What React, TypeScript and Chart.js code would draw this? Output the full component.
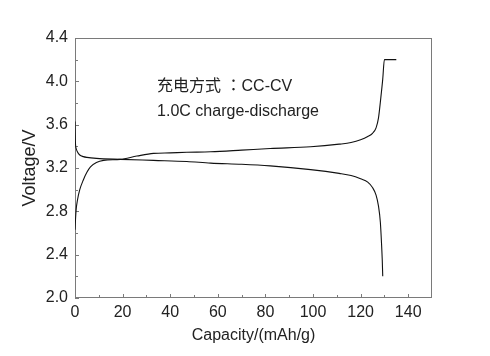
import { useEffect, useRef } from "react";
import { Chart, registerables } from "chart.js";

Chart.register(...registerables);

// ---- data ----
const chargeCapacity = [0, 0.2, 0.5, 1, 2, 3.5, 5, 6.5, 9, 12, 19, 26, 33, 40, 47, 57, 70, 82, 99, 111, 116, 120, 123, 125, 126.5, 127.5, 128.5, 129.3, 130, 135];
const chargeVoltage = [2.63, 2.72, 2.82, 2.9, 3.0, 3.09, 3.16, 3.21, 3.25, 3.27, 3.28, 3.31, 3.335, 3.34, 3.345, 3.35, 3.365, 3.38, 3.396, 3.42, 3.435, 3.46, 3.49, 3.52, 3.57, 3.66, 3.85, 4.02, 4.2, 4.2];

const dischargeCapacity = [0, 0.15, 0.5, 1, 2, 3.5, 5, 9, 19, 33, 47, 57, 70, 82, 99, 111, 116, 120, 123, 125, 126.5, 127.5, 128.3, 128.8, 129.1, 129.3];
const dischargeVoltage = [3.63, 3.45, 3.38, 3.35, 3.32, 3.305, 3.298, 3.289, 3.28, 3.27, 3.26, 3.245, 3.235, 3.22, 3.185, 3.15, 3.13, 3.1, 3.07, 3.02, 2.95, 2.85, 2.7, 2.5, 2.35, 2.2];

const xTicks = [0, 20, 40, 60, 80, 100, 120, 140];
const xMinorTicks = [10, 30, 50, 70, 90, 110, 130];
const yTicks = [2.0, 2.4, 2.8, 3.2, 3.6, 4.0, 4.4];
const yMinorTicks = [2.2, 2.6, 3.0, 3.4, 3.8, 4.2];

const noteLines = ["充电方式 ：CC-CV", "1.0C charge-discharge"];
const noteX = 34.5;
const noteY = [3.95, 3.72];

const FONT = '"Liberation Sans", Arial, "Noto Sans CJK TC", sans-serif';

const framePlugin = {
  id: "framePlugin",
  beforeDatasetsDraw(chart: any) {
    const { ctx, chartArea } = chart;
    const xs = chart.scales.x;
    const ys = chart.scales.y;
    const { left, right, top, bottom } = chartArea;
    ctx.save();
    ctx.strokeStyle = "#7a7a7a";
    ctx.lineWidth = 1;
    ctx.strokeRect(left + 0.5, top + 0.5, right - left - 1, bottom - top - 1);
    ctx.beginPath();
    const drawX = (v: number, len: number) => {
      const px = Math.round(xs.getPixelForValue(v)) + 0.5;
      ctx.moveTo(px, bottom);
      ctx.lineTo(px, bottom - len);
    };
    const drawY = (v: number, len: number) => {
      const py = Math.round(ys.getPixelForValue(v)) + 0.5;
      ctx.moveTo(left, py);
      ctx.lineTo(left + len, py);
    };
    xTicks.forEach((v) => drawX(v, 4));
    xMinorTicks.forEach((v) => drawX(v, 3));
    yTicks.forEach((v) => drawY(v, 4));
    yMinorTicks.forEach((v) => drawY(v, 3));
    ctx.stroke();
    ctx.restore();
  },
  afterDraw(chart: any) {
    const { ctx } = chart;
    const xs = chart.scales.x;
    const ys = chart.scales.y;
    ctx.save();
    ctx.fillStyle = "#222";
    ctx.font = `16px ${FONT}`;
    ctx.textAlign = "left";
    ctx.textBaseline = "middle";
    noteLines.forEach((t, i) => {
      ctx.fillText(t, xs.getPixelForValue(noteX), ys.getPixelForValue(noteY[i]));
    });
    ctx.restore();
  },
};

export default function App() {
  const ref = useRef<HTMLCanvasElement | null>(null);

  useEffect(() => {
    document.body.style.margin = "0";
    const canvas = ref.current;
    if (!canvas) return;
    const chart = new Chart(canvas, {
      type: "line",
      data: {
        datasets: [
          {
            label: "charge",
            data: chargeCapacity.map((x, i) => ({ x, y: chargeVoltage[i] })),
            borderColor: "#111",
            borderWidth: 1.1,
            pointRadius: 0,
            cubicInterpolationMode: "monotone",
            fill: false,
          },
          {
            label: "discharge",
            data: dischargeCapacity.map((x, i) => ({ x, y: dischargeVoltage[i] })),
            borderColor: "#111",
            borderWidth: 1.1,
            pointRadius: 0,
            cubicInterpolationMode: "monotone",
            fill: false,
          },
        ],
      },
      options: {
        responsive: false,
        animation: false,
        devicePixelRatio: 1,
        layout: { padding: { top: 38, right: 58, left: 0, bottom: 0 } },
        plugins: { legend: { display: false }, tooltip: { enabled: false } },
        scales: {
          x: {
            type: "linear",
            min: 0,
            max: 150,
            grid: { display: false, drawTicks: false },
            border: { display: false },
            afterBuildTicks: (s: any) => {
              s.ticks = xTicks.map((v) => ({ value: v }));
            },
            afterFit: (s: any) => {
              s.height = 58;
            },
            ticks: {
              padding: 5,
              color: "#222",
              font: { family: FONT, size: 16 },
              maxRotation: 0,
              autoSkip: false,
            },
            title: {
              display: true,
              text: "Capacity/(mAh/g)",
              color: "#222",
              font: { family: FONT, size: 16 },
              padding: { top: 0, bottom: 11 },
            },
          },
          y: {
            type: "linear",
            min: 2.0,
            max: 4.4,
            grid: { display: false, drawTicks: false },
            border: { display: false },
            afterBuildTicks: (s: any) => {
              s.ticks = yTicks.map((v) => ({ value: v }));
            },
            afterFit: (s: any) => {
              s.width = 75;
            },
            ticks: {
              padding: 7,
              color: "#222",
              font: { family: FONT, size: 16 },
              callback: (v: any) => Number(v).toFixed(1),
            },
            title: {
              display: true,
              text: "Voltage/V",
              color: "#222",
              font: { family: FONT, size: 18 },
              padding: { top: 19, bottom: 0 },
            },
          },
        },
      },
      plugins: [framePlugin],
    });
    return () => chart.destroy();
  }, []);

  return (
    <div style={{ position: "absolute", left: 0, top: 0, width: 490, height: 356, background: "#fff" }}>
      <canvas ref={ref} width={490} height={356} style={{ display: "block" }} />
    </div>
  );
}
